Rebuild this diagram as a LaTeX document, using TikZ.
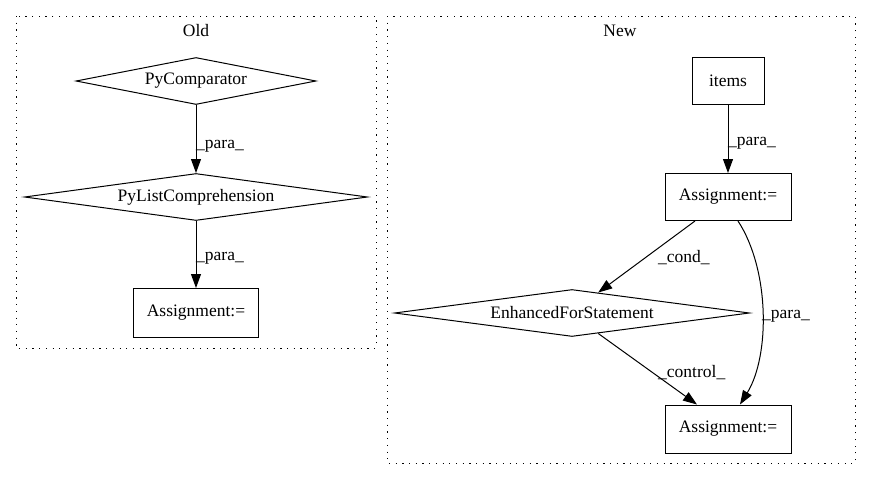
\documentclass[tikz,border=0pt]{standalone}
\usepackage{fontspec}
\setmainfont{Liberation Serif}
\usetikzlibrary{arrows.meta,shapes.geometric,calc}
\begin{document}
\begin{tikzpicture}[x=1pt,y=-1pt,
  every node/.style={font=\fontsize{17.5}{20}\selectfont},
  cluster/.style={draw, line width=1pt, dash pattern=on 1.2pt off 5.5pt},
  box/.style={draw, line width=1pt, rectangle, inner sep=0pt},
  dia/.style={draw, line width=1pt, diamond, inner sep=0pt},
  edge/.style={line width=1pt, -{Triangle[length=14pt,width=10pt]}},
  lbl/.style={inner sep=0pt, anchor=west, yshift=-3pt}
]
\useasboundingbox (0,0) rectangle (871,480);
% clusters
\draw[cluster] (16,16) rectangle (376,348);
\draw[cluster] (387,16) rectangle (855,463);
\node (toldt) at (196,31) {Old};
\node (tnew) at (620,31) {New};
% Old nodes
\node[dia, minimum width=240pt, minimum height=47pt, shape aspect=5.1] (pc) at (196,81) {PyComparator};
\node[dia, minimum width=343pt, minimum height=47pt, shape aspect=7.3] (plc) at (196,197) {PyListComprehension};
\node[box, minimum width=125pt, minimum height=49pt] (oa) at (196,313) {Assignment:=};
\draw[edge] (pc.south) -- (plc.north);
\draw[edge] (plc.south) -- (oa.north);
\node[lbl] (l1) at (196,143) {\_para\_};
\node[lbl] (l2) at (196,255) {\_para\_};
% New nodes
\node[box, minimum width=72pt, minimum height=47pt] (items) at (728,81) {items};
\node[box, minimum width=126pt, minimum height=47pt] (na1) at (728,197) {Assignment:=};
\node[dia, minimum width=355pt, minimum height=47pt, shape aspect=7.55] (efs) at (572,313) {EnhancedForStatement};
\node[box, minimum width=126pt, minimum height=48pt] (na2) at (728,429) {Assignment:=};
\draw[edge] (items.south) -- (na1.north);
\draw[edge] ($(na1.south)+(-33,0)$) -- (efs.38);
\draw[edge] (efs.-38) -- ($(na2.north)+(-31,0)$);
\draw[edge] ($(na1.south)+(10,0)$) .. controls (770,270) and (770,356) .. ($(na2.north)+(12,0)$);
\node[lbl] (l3) at (728,140) {\_para\_};
\node[lbl] (l4) at (658,255) {\_cond\_};
\node[lbl] (l5) at (658,370) {\_control\_};
\node[lbl] (l6) at (762,313) {\_para\_};
\end{tikzpicture}
\end{document}
